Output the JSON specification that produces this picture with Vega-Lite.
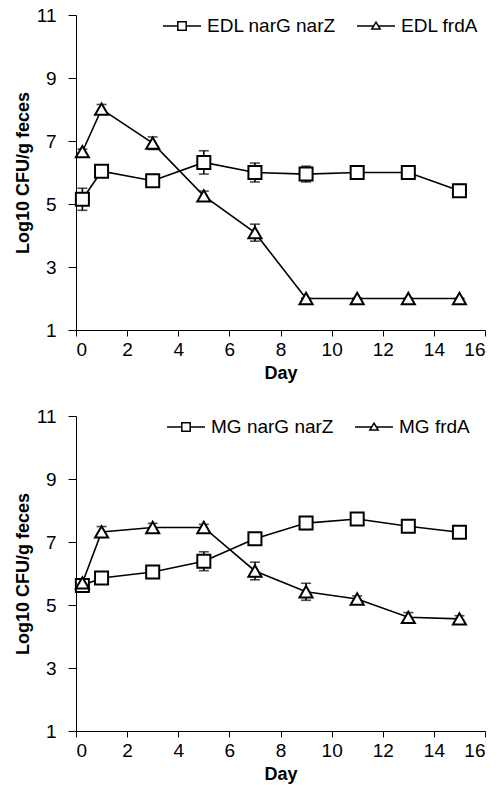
{
  "$schema": "https://vega.github.io/schema/vega-lite/v6.json",
  "padding": {"left": 14, "top": 6, "right": 2, "bottom": 2},
  "background": "white",
  "config": {
    "view": {"stroke": null},
    "axis": {
      "grid": false,
      "domainColor": "black",
      "tickColor": "black",
      "labelColor": "black",
      "labelFont": "Liberation Sans",
      "labelFontSize": 19,
      "titleFont": "Liberation Sans",
      "titleFontSize": 18,
      "titleFontWeight": "bold",
      "titleColor": "black"
    },
    "axisX": {"tickSize": 6, "labelPadding": 4, "titlePadding": 5},
    "axisY": {"tickSize": 8, "labelPadding": 12, "titlePadding": 4},
    "legend": {
      "orient": "none",
      "direction": "horizontal",
      "title": null,
      "labelFont": "Liberation Sans",
      "labelFontSize": 19,
      "labelColor": "black",
      "labelLimit": 300,
      "labelOffset": 5,
      "columnPadding": 18,
      "symbolSize": 1444
    }
  },
  "datasets": {
    "cfu": [
      {"strain": "EDL", "series": "EDL narG narZ", "day": 0.25, "value": 5.15, "err": 0.35},
      {"strain": "EDL", "series": "EDL narG narZ", "day": 1, "value": 6.04, "err": 0.08},
      {"strain": "EDL", "series": "EDL narG narZ", "day": 3, "value": 5.74, "err": 0.05},
      {"strain": "EDL", "series": "EDL narG narZ", "day": 5, "value": 6.32, "err": 0.37},
      {"strain": "EDL", "series": "EDL narG narZ", "day": 7, "value": 6.0, "err": 0.3},
      {"strain": "EDL", "series": "EDL narG narZ", "day": 9, "value": 5.95, "err": 0.25},
      {"strain": "EDL", "series": "EDL narG narZ", "day": 11, "value": 6.0, "err": 0.05},
      {"strain": "EDL", "series": "EDL narG narZ", "day": 13, "value": 6.0, "err": 0.05},
      {"strain": "EDL", "series": "EDL narG narZ", "day": 15, "value": 5.42, "err": 0.2},
      {"strain": "EDL", "series": "EDL frdA", "day": 0.25, "value": 6.66, "err": 0.08},
      {"strain": "EDL", "series": "EDL frdA", "day": 1, "value": 8.01, "err": 0.15},
      {"strain": "EDL", "series": "EDL frdA", "day": 3, "value": 6.93, "err": 0.2},
      {"strain": "EDL", "series": "EDL frdA", "day": 5, "value": 5.26, "err": 0.15},
      {"strain": "EDL", "series": "EDL frdA", "day": 7, "value": 4.09, "err": 0.27},
      {"strain": "EDL", "series": "EDL frdA", "day": 9, "value": 2.0, "err": 0},
      {"strain": "EDL", "series": "EDL frdA", "day": 11, "value": 2.0, "err": 0},
      {"strain": "EDL", "series": "EDL frdA", "day": 13, "value": 2.0, "err": 0},
      {"strain": "EDL", "series": "EDL frdA", "day": 15, "value": 2.0, "err": 0},
      {"strain": "MG", "series": "MG narG narZ", "day": 0.25, "value": 5.62, "err": 0.1},
      {"strain": "MG", "series": "MG narG narZ", "day": 1, "value": 5.86, "err": 0.05},
      {"strain": "MG", "series": "MG narG narZ", "day": 3, "value": 6.05, "err": 0.05},
      {"strain": "MG", "series": "MG narG narZ", "day": 5, "value": 6.39, "err": 0.3},
      {"strain": "MG", "series": "MG narG narZ", "day": 7, "value": 7.1, "err": 0.05},
      {"strain": "MG", "series": "MG narG narZ", "day": 9, "value": 7.6, "err": 0.2},
      {"strain": "MG", "series": "MG narG narZ", "day": 11, "value": 7.73, "err": 0.05},
      {"strain": "MG", "series": "MG narG narZ", "day": 13, "value": 7.5, "err": 0.05},
      {"strain": "MG", "series": "MG narG narZ", "day": 15, "value": 7.31, "err": 0.12},
      {"strain": "MG", "series": "MG frdA", "day": 0.25, "value": 5.7, "err": 0.08},
      {"strain": "MG", "series": "MG frdA", "day": 1, "value": 7.32, "err": 0.17},
      {"strain": "MG", "series": "MG frdA", "day": 3, "value": 7.46, "err": 0.13},
      {"strain": "MG", "series": "MG frdA", "day": 5, "value": 7.46, "err": 0.1},
      {"strain": "MG", "series": "MG frdA", "day": 7, "value": 6.08, "err": 0.28},
      {"strain": "MG", "series": "MG frdA", "day": 9, "value": 5.42, "err": 0.27},
      {"strain": "MG", "series": "MG frdA", "day": 11, "value": 5.19, "err": 0.1},
      {"strain": "MG", "series": "MG frdA", "day": 13, "value": 4.61, "err": 0.15},
      {"strain": "MG", "series": "MG frdA", "day": 15, "value": 4.56, "err": 0.1}
    ]
  },
  "spacing": 25,
  "resolve": {"scale": {"shape": "independent"}, "legend": {"shape": "independent"}},
  "vconcat": [
    {
      "width": 409,
      "height": 315,
      "data": {"name": "cfu"},
      "transform": [{"filter": "datum.strain === 'EDL'"}],
      "resolve": {"scale": {"shape": "independent"}, "legend": {"shape": "independent"}},
      "encoding": {
        "x": {
          "field": "day",
          "type": "quantitative",
          "scale": {"domain": [0, 16], "nice": false},
          "axis": {"values": [0, 2, 4, 6, 8, 10, 12, 14, 16], "title": "Day"}
        },
        "y": {
          "field": "value",
          "type": "quantitative",
          "scale": {"domain": [1, 11], "nice": false},
          "axis": {"values": [1, 3, 5, 7, 9, 11], "title": "Log10 CFU/g feces"}
        }
      },
      "layer": [
        {
          "mark": {"type": "line", "color": "black", "strokeWidth": 1.6},
          "encoding": {"detail": {"field": "series"}}
        },
        {
          "mark": {"type": "errorbar", "ticks": true, "size": 10, "thickness": 1.6, "color": "black"},
          "encoding": {"yError": {"field": "err"}, "detail": {"field": "series"}}
        },
        {
          "mark": {"type": "point", "fill": "white", "stroke": "black", "strokeWidth": 2, "opacity": 1, "size": 170},
          "encoding": {
            "shape": {
              "field": "series",
              "type": "nominal",
              "scale": {"domain": ["EDL narG narZ", "EDL frdA"], "range": ["square", "triangle-up"]},
              "legend": null
            }
          }
        },
        {
          "transform": [{"filter": "datum.day < 0"}],
          "mark": {"type": "point", "fill": "white", "stroke": "black", "strokeWidth": 1.3, "opacity": 1},
          "encoding": {
            "shape": {
              "field": "series",
              "type": "nominal",
              "scale": {
                "domain": ["EDL narG narZ", "EDL frdA"],
                "range": [
                  "M-1,0H-0.22M0.22,0H1M-0.22,-0.22H0.22V0.22H-0.22Z",
                  "M-1,0H-0.12M0.12,0H1M0,-0.2L0.22,0.16H-0.22Z"
                ]
              },
              "legend": {
                "legendX": 86,
                "legendY": -9,
                "encode": {
                  "symbols": {
                    "update": {
                      "stroke": {"value": "black"},
                      "fill": {"value": "white"},
                      "strokeWidth": {"value": 1.3},
                      "opacity": {"value": 1}
                    }
                  }
                }
              }
            }
          }
        }
      ]
    },
    {
      "width": 409,
      "height": 315,
      "data": {"name": "cfu"},
      "transform": [{"filter": "datum.strain === 'MG'"}],
      "resolve": {"scale": {"shape": "independent"}, "legend": {"shape": "independent"}},
      "encoding": {
        "x": {
          "field": "day",
          "type": "quantitative",
          "scale": {"domain": [0, 16], "nice": false},
          "axis": {"values": [0, 2, 4, 6, 8, 10, 12, 14, 16], "title": "Day"}
        },
        "y": {
          "field": "value",
          "type": "quantitative",
          "scale": {"domain": [1, 11], "nice": false},
          "axis": {"values": [1, 3, 5, 7, 9, 11], "title": "Log10 CFU/g feces"}
        }
      },
      "layer": [
        {
          "mark": {"type": "line", "color": "black", "strokeWidth": 1.6},
          "encoding": {"detail": {"field": "series"}}
        },
        {
          "mark": {"type": "errorbar", "ticks": true, "size": 10, "thickness": 1.6, "color": "black"},
          "encoding": {"yError": {"field": "err"}, "detail": {"field": "series"}}
        },
        {
          "mark": {"type": "point", "fill": "white", "stroke": "black", "strokeWidth": 2, "opacity": 1, "size": 170},
          "encoding": {
            "shape": {
              "field": "series",
              "type": "nominal",
              "scale": {"domain": ["MG narG narZ", "MG frdA"], "range": ["square", "triangle-up"]},
              "legend": null
            }
          }
        },
        {
          "transform": [{"filter": "datum.day < 0"}],
          "mark": {"type": "point", "fill": "white", "stroke": "black", "strokeWidth": 1.3, "opacity": 1},
          "encoding": {
            "shape": {
              "field": "series",
              "type": "nominal",
              "scale": {
                "domain": ["MG narG narZ", "MG frdA"],
                "range": [
                  "M-1,0H-0.22M0.22,0H1M-0.22,-0.22H0.22V0.22H-0.22Z",
                  "M-1,0H-0.12M0.12,0H1M0,-0.2L0.22,0.16H-0.22Z"
                ]
              },
              "legend": {
                "legendX": 90,
                "legendY": -9,
                "encode": {
                  "symbols": {
                    "update": {
                      "stroke": {"value": "black"},
                      "fill": {"value": "white"},
                      "strokeWidth": {"value": 1.3},
                      "opacity": {"value": 1}
                    }
                  }
                }
              }
            }
          }
        }
      ]
    }
  ]
}
